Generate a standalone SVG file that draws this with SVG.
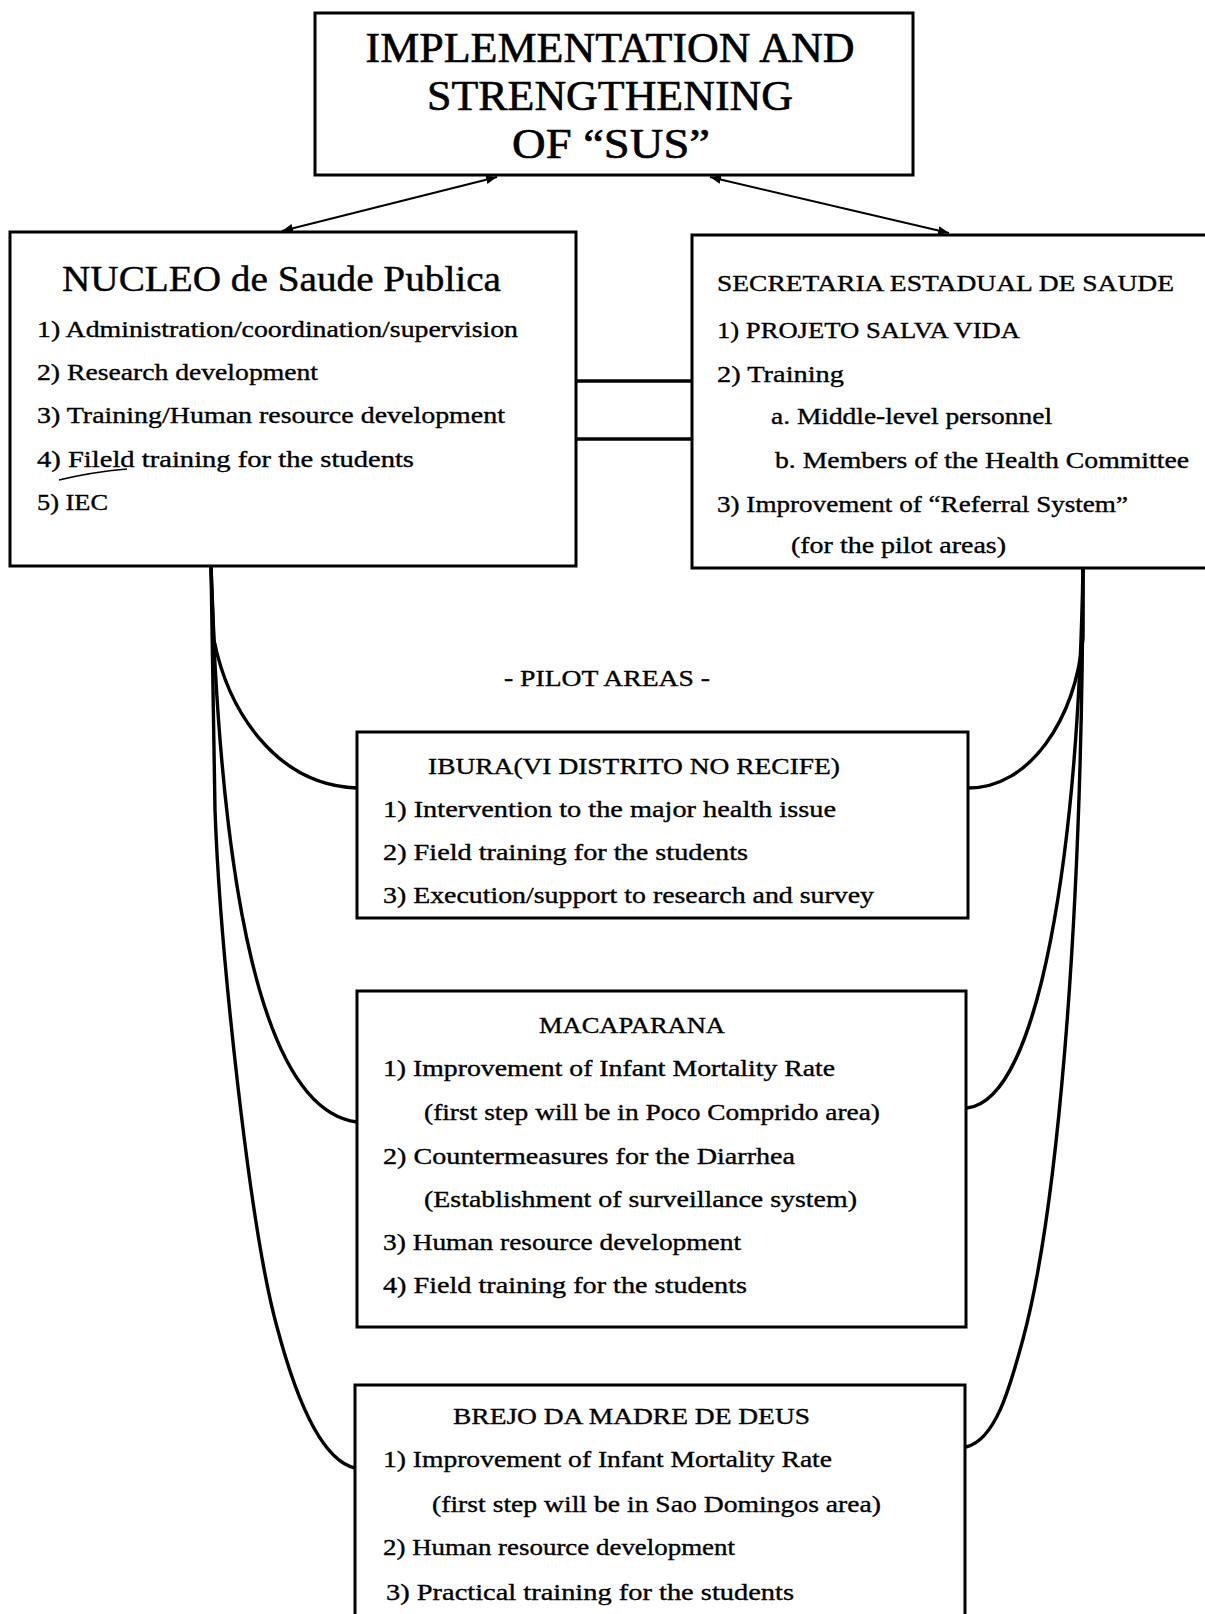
<svg xmlns="http://www.w3.org/2000/svg" width="1205" height="1614" viewBox="0 0 1205 1614">
<style>
.box{fill:none;stroke:#000;stroke-width:3}
.t{font-family:"Liberation Serif","Times New Roman",serif;fill:#000;stroke:#000;stroke-width:0.35}
.h1{font-size:43px;stroke-width:0.6}
.h2{font-size:35px;stroke-width:0.4}
.h3{font-size:23px}
.it{font-size:23px}
.conn{fill:none;stroke:#000;stroke-width:3.4}
.arr{fill:none;stroke:#000;stroke-width:2}
</style>
<defs>
<marker id="ah" viewBox="0 0 10 10" refX="10" refY="5" markerWidth="5.5" markerHeight="5.5" orient="auto-start-reverse" markerUnits="strokeWidth">
<path d="M0,1 L10,5 L0,9 z" fill="#000"/>
</marker>
</defs>
<rect width="1205" height="1614" fill="#fff"/>

<g id="connectors">
<line class="arr" x1="497" y1="177" x2="282" y2="231" marker-start="url(#ah)" marker-end="url(#ah)"/>
<line class="arr" x1="710" y1="177" x2="949" y2="233" marker-start="url(#ah)" marker-end="url(#ah)"/>
<line class="conn" x1="576" y1="381" x2="692" y2="381"/>
<line class="conn" x1="576" y1="439" x2="692" y2="439"/>
<path class="conn" d="M211,566 L214,640 C228,710 275,785 357,788"/>
<path class="conn" d="M211,566 C220,880 260,1110 357,1122"/>
<path class="conn" d="M211,566 L215,810 C220,950 250,1230 277,1327 C295,1395 320,1460 355,1468"/>
<path class="conn" d="M1083,567 L1083,638 C1075,720 1030,788 968,788"/>
<path class="conn" d="M1083,567 C1078,850 1040,1100 967,1108"/>
<path class="conn" d="M1083,567 C1082,950 1055,1220 1023,1339 C1009,1391 995,1440 966,1447"/>
</g>

<g id="node-sus">
<rect class="box" x="315" y="13" width="598" height="162"/>
<text class="t h1" x="610" y="62" text-anchor="middle" textLength="489" lengthAdjust="spacingAndGlyphs">IMPLEMENTATION AND</text>
<text class="t h1" x="610" y="110" text-anchor="middle" textLength="366" lengthAdjust="spacingAndGlyphs">STRENGTHENING</text>
<text class="t h1" x="611" y="158" text-anchor="middle" textLength="198" lengthAdjust="spacingAndGlyphs">OF “SUS”</text>
</g>

<g id="node-nucleo">
<rect class="box" x="10" y="232" width="566" height="334"/>
<text class="t h2" x="62" y="291" textLength="439" lengthAdjust="spacingAndGlyphs">NUCLEO de Saude Publica</text>
<text class="t it" x="37" y="337" textLength="481" lengthAdjust="spacingAndGlyphs">1) Administration/coordination/supervision</text>
<text class="t it" x="37" y="380" textLength="281" lengthAdjust="spacingAndGlyphs">2) Research development</text>
<text class="t it" x="37" y="423" textLength="468" lengthAdjust="spacingAndGlyphs">3) Training/Human resource development</text>
<text class="t it" x="37" y="467" textLength="377" lengthAdjust="spacingAndGlyphs">4) Fileld training for the students</text>
<text class="t it" x="37" y="510" textLength="71" lengthAdjust="spacingAndGlyphs">5) IEC</text>
<path d="M59,480 Q92,472 127,469" fill="none" stroke="#000" stroke-width="1.6"/>
</g>

<g id="node-secretaria">
<rect class="box" x="692" y="235" width="520" height="333"/>
<text class="t h3" x="717" y="291" textLength="457" lengthAdjust="spacingAndGlyphs">SECRETARIA ESTADUAL DE SAUDE</text>
<text class="t it" x="717" y="338" textLength="303" lengthAdjust="spacingAndGlyphs">1) PROJETO SALVA VIDA</text>
<text class="t it" x="717" y="382" textLength="127" lengthAdjust="spacingAndGlyphs">2) Training</text>
<text class="t it" x="771" y="424" textLength="281" lengthAdjust="spacingAndGlyphs">a. Middle-level personnel</text>
<text class="t it" x="775" y="468" textLength="414" lengthAdjust="spacingAndGlyphs">b. Members of the Health Committee</text>
<text class="t it" x="717" y="512" textLength="411" lengthAdjust="spacingAndGlyphs">3) Improvement of “Referral System”</text>
<text class="t it" x="791" y="553" textLength="215" lengthAdjust="spacingAndGlyphs">(for the pilot areas)</text>
</g>

<g id="label-pilot">
<text class="t it" x="607" y="686" text-anchor="middle" textLength="206" lengthAdjust="spacingAndGlyphs">- PILOT AREAS -</text>
</g>

<g id="node-ibura">
<rect class="box" x="357" y="732" width="611" height="186"/>
<text class="t it" x="428" y="774" textLength="412" lengthAdjust="spacingAndGlyphs">IBURA(VI DISTRITO NO RECIFE)</text>
<text class="t it" x="383" y="817" textLength="453" lengthAdjust="spacingAndGlyphs">1) Intervention to the major health issue</text>
<text class="t it" x="383" y="860" textLength="365" lengthAdjust="spacingAndGlyphs">2) Field training for the students</text>
<text class="t it" x="383" y="903" textLength="491" lengthAdjust="spacingAndGlyphs">3) Execution/support to research and survey</text>
</g>

<g id="node-macaparana">
<rect class="box" x="357" y="991" width="609" height="336"/>
<text class="t it" x="539" y="1033" textLength="186" lengthAdjust="spacingAndGlyphs">MACAPARANA</text>
<text class="t it" x="383" y="1076" textLength="452" lengthAdjust="spacingAndGlyphs">1) Improvement of Infant Mortality Rate</text>
<text class="t it" x="424" y="1120" textLength="456" lengthAdjust="spacingAndGlyphs">(first step will be in Poco Comprido area)</text>
<text class="t it" x="383" y="1164" textLength="412" lengthAdjust="spacingAndGlyphs">2) Countermeasures for the Diarrhea</text>
<text class="t it" x="424" y="1207" textLength="433" lengthAdjust="spacingAndGlyphs">(Establishment of surveillance system)</text>
<text class="t it" x="383" y="1250" textLength="358" lengthAdjust="spacingAndGlyphs">3) Human resource development</text>
<text class="t it" x="383" y="1293" textLength="364" lengthAdjust="spacingAndGlyphs">4) Field training for the students</text>
</g>

<g id="node-brejo">
<rect class="box" x="355" y="1385" width="610" height="240"/>
<text class="t it" x="453" y="1424" textLength="357" lengthAdjust="spacingAndGlyphs">BREJO DA MADRE DE DEUS</text>
<text class="t it" x="383" y="1467" textLength="449" lengthAdjust="spacingAndGlyphs">1) Improvement of Infant Mortality Rate</text>
<text class="t it" x="432" y="1512" textLength="449" lengthAdjust="spacingAndGlyphs">(first step will be in Sao Domingos area)</text>
<text class="t it" x="383" y="1555" textLength="352" lengthAdjust="spacingAndGlyphs">2) Human resource development</text>
<text class="t it" x="386" y="1600" textLength="408" lengthAdjust="spacingAndGlyphs">3) Practical training for the students</text>
</g>
</svg>
